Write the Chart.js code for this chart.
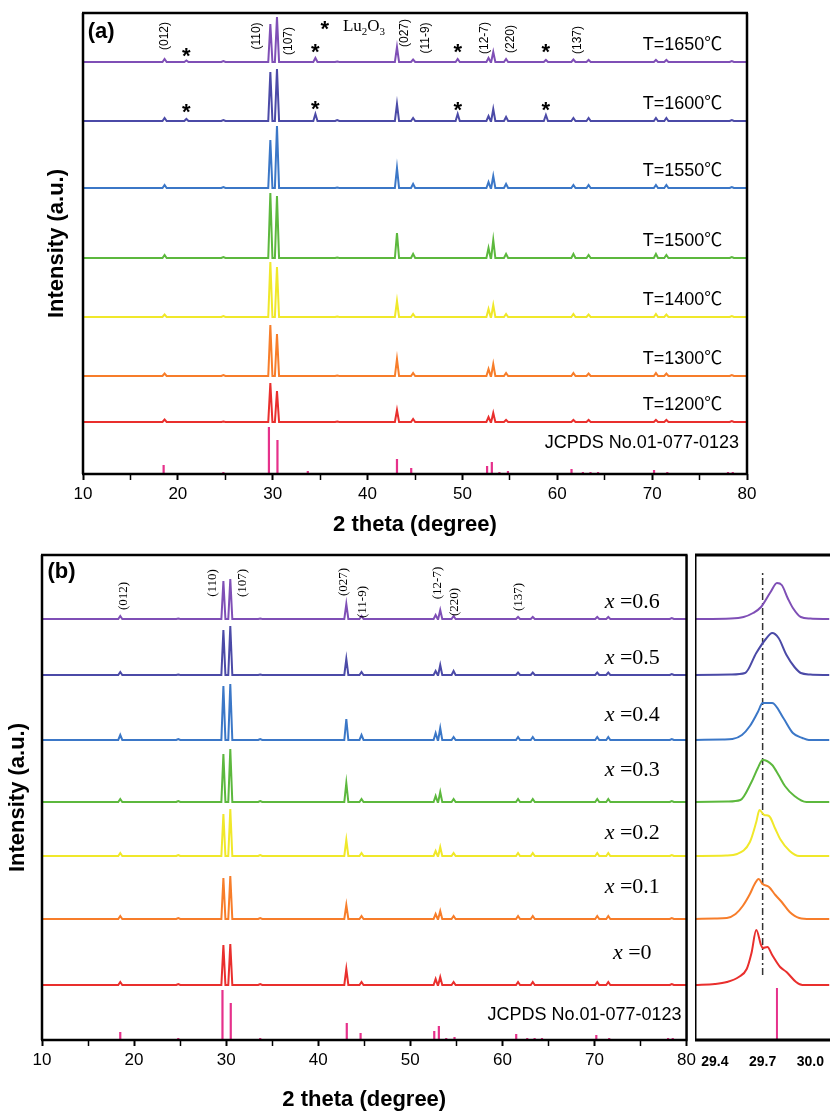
<!DOCTYPE html>
<html>
<head>
<meta charset="utf-8">
<script src="https://cdn.jsdelivr.net/npm/chart.js@4.4.0/dist/chart.umd.min.js"></script>
<style>
  body { margin: 0; background: #fff; width: 830px; height: 1113px; position: relative; overflow: hidden; }
  canvas { position: absolute; }
</style>
</head>
<body>
<canvas id="chartA" width="830" height="545" style="left:0;top:0"></canvas>
<canvas id="chartB" width="700" height="568" style="left:0;top:545px"></canvas>
<canvas id="chartC" width="135" height="568" style="left:695px;top:545px"></canvas>
<script>
// ---------- datos ----------
const xTicks = [10, 15, 20, 25, 30, 35, 40, 45, 50, 55, 60, 65, 70, 75, 80];
const insetTicks = [29.4, 29.7, 30.0];

// lineas de referencia JCPDS No.01-077-0123
const refPos = [18.5, 24.8, 29.6, 30.5, 33.7, 43.1, 44.6, 52.6, 53.1, 53.9, 54.8, 61.5, 62.7, 63.5, 64.3, 70.2, 71.6, 78.0, 78.5];
const refA   = [9, 2, 47, 34, 3, 15, 6, 8, 12, 2, 3, 5, 2, 2, 2, 4, 2, 2, 2];
const refB   = [8, 2, 50, 37, 2, 17, 7, 9, 14, 2, 3, 6, 2, 2, 2, 5, 2, 2, 2];

// (a) temperatura de sinterizado
const tempLabels  = ['T=1650℃', 'T=1600℃', 'T=1550℃', 'T=1500℃', 'T=1400℃', 'T=1300℃', 'T=1200℃'];
const tempOffsets = [412, 353, 286, 216, 157, 98, 52];
const peaksA = [18.6, 20.9, 24.8, 29.75, 30.45, 34.5, 36.8, 43.1, 44.8, 49.5, 52.75, 53.25, 54.6, 58.8, 61.7, 63.3, 70.4, 71.5, 78.4];
const h1650 = [3, 1.5, 1, 38, 45, 4, 0.5, 15, 2.5, 3, 4, 10, 3, 2, 2.5, 2, 2, 2, 1];
const h1600 = [3, 2, 1, 49, 52, 7, 1, 17, 3, 7, 5, 12, 4, 6, 3, 3, 3, 3, 1];
const h1550 = [3, 0, 1, 48, 62, 0, 0.5, 20, 4, 0, 6, 12, 4, 0, 3, 3, 3, 3, 1];
const h1500 = [3, 0, 1, 65, 62, 0, 0.5, 25, 4, 0, 10, 18, 4, 0, 4, 3, 4, 3, 1];
const h1400 = [2.5, 0, 1, 55, 50, 0, 0.5, 16, 3, 0, 8, 12, 3, 0, 3, 2.5, 3, 2.5, 1];
const h1300 = [2.5, 0, 1, 51, 42, 0, 0.5, 17, 3, 0, 7, 12, 3, 0, 3, 2.5, 3, 2.5, 1];
const h1200 = [2.5, 0, 0.5, 39, 31, 0, 0.5, 12, 3, 0, 5, 9, 2, 0, 2, 2, 2, 2, 1];

// (b) composicion x
const compLabels  = ['0.6', '0.5', '0.4', '0.3', '0.2', '0.1', '0'];
const compOffsets = [421, 365, 300, 238, 184, 121, 55];
const peaksB = [18.5, 24.8, 29.7, 30.45, 33.7, 43.05, 44.7, 52.75, 53.25, 54.7, 61.7, 63.3, 70.3, 71.5, 78.4];
const hx06 = [3, 0.5, 38, 40, 0.5, 15, 3, 4, 9, 3, 2, 2, 2, 2, 1];
const hx05 = [3, 0.5, 45, 49, 0.5, 16, 3, 4, 10, 4, 2.5, 2.5, 2.5, 2.5, 1];
const hx04 = [5, 1, 54, 56, 1, 21, 5, 7, 12, 3, 3, 3, 3, 3, 1];
const hx03 = [3, 1, 48, 53, 1, 19, 3, 6, 10, 3, 3, 3, 3, 3, 1];
const hx02 = [3, 1, 42, 47, 1, 16, 3, 5, 9, 3, 3, 3, 3, 3, 1];
const hx01 = [3, 1, 41, 43, 1, 14, 3, 5, 8, 3, 3, 3, 3, 3, 1];
const hx00 = [3, 1, 40, 41, 1, 16, 3, 6, 8, 3, 3, 3, 3, 3, 1];

// detalle del pico (110), 2theta vs intensidad
const inset06 = [[29.275,0],[29.5,0.5],[29.58,2],[29.64,6],[29.69,12],[29.75,27],[29.79,36],[29.82,34],[29.86,20],[29.89,11],[29.94,2],[30.0,0.5],[30.12,0]];
const inset05 = [[29.275,0],[29.5,0.5],[29.59,2],[29.66,22],[29.72,36],[29.76,42],[29.8,37],[29.85,20],[29.9,8],[29.94,2],[30.0,0.5],[30.12,0]];
const inset04 = [[29.275,0],[29.45,0.5],[29.51,1],[29.57,5],[29.62,14],[29.67,28],[29.70,37],[29.76,37],[29.83,22],[29.89,7],[29.95,2],[29.99,0],[30.12,0]];
const inset03 = [[29.275,0],[29.48,0.5],[29.56,2],[29.63,20],[29.67,34],[29.70,42],[29.76,37],[29.8,27],[29.84,16],[29.9,6],[29.975,0],[30.12,0]];
const inset02 = [[29.275,0],[29.47,0.5],[29.54,2],[29.62,14],[29.66,34],[29.68,46],[29.71,41],[29.74,40],[29.78,27],[29.81,17],[29.87,5],[29.93,0],[30.12,0]];
const inset01 = [[29.275,0],[29.4,0.5],[29.475,1],[29.53,5],[29.575,13],[29.62,25],[29.65,35],[29.675,40],[29.7,35],[29.74,32],[29.78,24],[29.82,17],[29.87,7],[29.93,1],[30.0,0],[30.12,0]];
const inset00 = [[29.275,0],[29.4,1],[29.475,3],[29.55,8],[29.6,16],[29.63,32],[29.66,55],[29.69,40],[29.70,37],[29.73,38],[29.76,30],[29.81,18],[29.85,13],[29.91,3],[29.95,0],[30.12,0]];
const insetRef = [29.79];
const insetRefH = [52];
const guideX = 29.7;

// ---------- estilo ----------
const colores = ['#7f4fb6', '#4b4aa7', '#3b77c7', '#5cb83d', '#f0e82a', '#f77d2a', '#e92f2d'];
const colorRef = '#e6318b';
const sans = '"Liberation Sans", Arial, "Noto Sans CJK SC", sans-serif';
const serif = '"Liberation Serif", "Times New Roman", serif';
const HW = 0.22;  // semiancho de cada pico

Chart.defaults.font.family = sans;
Chart.defaults.color = '#000';

function trace(peaks, heights, base) {
  const pts = [{x: 10, y: base}];
  peaks.forEach((p, i) => {
    if (!heights[i]) return;
    pts.push({x: p - HW, y: base}, {x: p, y: base + heights[i]}, {x: p + HW, y: base});
  });
  pts.push({x: 80, y: base});
  return pts;
}

function sticks(pos, h) {
  const pts = [];
  pos.forEach((p, i) => { pts.push({x: p, y: 0}, {x: p, y: h[i]}, {x: p, y: null}); });
  return pts;
}

function lineSet(data, color, extra) {
  return Object.assign({data, borderColor: color, borderWidth: 2, pointRadius: 0, tension: 0, fill: false}, extra || {});
}

function partFont(n, p) {
  const size = p.sub ? Math.round(n.size * 0.62) : n.size;
  return (p.italic ? 'italic ' : '') + (n.bold ? 'bold ' : '') + size + 'px ' + (n.family || sans);
}

function notes(items) {
  return {
    id: 'notes',
    afterDraw(chart) {
      const {ctx, scales: {x, y}} = chart;
      items.forEach(n => {
        const parts = Array.isArray(n.text) ? n.text : [{t: n.text}];
        ctx.save();
        ctx.fillStyle = '#000';
        ctx.translate(x.getPixelForValue(n.x), y.getPixelForValue(n.y));
        if (n.rot) ctx.rotate(-Math.PI / 2);
        ctx.textBaseline = 'middle';
        ctx.textAlign = 'left';
        let w = 0;
        parts.forEach(p => { ctx.font = partFont(n, p); w += ctx.measureText(p.t).width; });
        let cx = n.align === 'right' ? -w : n.align === 'left' ? 0 : -w / 2;
        parts.forEach(p => {
          ctx.font = partFont(n, p);
          ctx.fillText(p.t, cx, p.sub ? n.size * 0.3 : 0);
          cx += ctx.measureText(p.t).width;
        });
        ctx.restore();
      });
    }
  };
}

function frame(sides, width) {
  return {
    id: 'frame',
    afterDraw(chart) {
      const {ctx, chartArea: a} = chart;
      ctx.save();
      ctx.strokeStyle = '#000';
      ctx.lineWidth = width;
      ctx.beginPath();
      if (sides.includes('t')) { ctx.moveTo(a.left - 1, a.top); ctx.lineTo(a.right + 1, a.top); }
      if (sides.includes('b')) { ctx.moveTo(a.left - 1, a.bottom); ctx.lineTo(a.right + 1, a.bottom); }
      if (sides.includes('l')) { ctx.moveTo(a.left, a.top); ctx.lineTo(a.left, a.bottom); }
      if (sides.includes('r')) { ctx.moveTo(a.right, a.top); ctx.lineTo(a.right, a.bottom); }
      ctx.stroke();
      ctx.restore();
    }
  };
}

function xAxis(height, withTitle, titlePad) {
  return {
    type: 'linear', min: 10, max: 80,
    afterBuildTicks: s => { s.ticks = xTicks.map(v => ({value: v})); },
    afterFit: s => { s.height = height; },
    grid: {display: true, drawOnChartArea: false, drawTicks: true, tickLength: 6, tickColor: '#000',
           tickWidth: c => (c.tick && c.tick.value % 10 === 0) ? 2 : 1.5},
    border: {display: false},
    ticks: {font: {size: 17}, padding: 4, maxRotation: 0, autoSkip: false,
            callback: v => v % 10 === 0 ? String(v) : ''},
    title: {display: withTitle, text: '2 theta (degree)', font: {size: 22, weight: 'bold', lineHeight: 1.2},
            padding: {top: 0, bottom: titlePad}}
  };
}

function yAxis(max, width, titlePad) {
  return {
    min: 0, max,
    afterFit: s => { s.width = width; },
    ticks: {display: false},
    grid: {display: false},
    border: {display: false},
    title: {display: true, text: 'Intensity (a.u.)', font: {size: 22, weight: 'bold', lineHeight: 1.2},
            padding: {top: titlePad, bottom: 0}}
  };
}

const baseOpts = {
  responsive: false,
  animation: false,
  events: [],
  plugins: {legend: {display: false}, tooltip: {enabled: false}}
};

// ---------- (a) ----------
const dataA = [h1650, h1600, h1550, h1500, h1400, h1300, h1200];
const notesA = [
  {text: '(a)', x: 10.5, y: 442, size: 22, bold: true, align: 'left'},
  {text: '(012)', x: 18.6, y: 438, size: 12, rot: true},
  {text: '(110)', x: 28.3, y: 438, size: 12, rot: true},
  {text: '(107)', x: 31.7, y: 433, size: 12, rot: true},
  {text: '(027)', x: 43.9, y: 441, size: 12, rot: true},
  {text: '(11-9)', x: 46.1, y: 436, size: 12, rot: true},
  {text: '(12-7)', x: 52.3, y: 436, size: 12, rot: true},
  {text: '(220)', x: 55.1, y: 435, size: 12, rot: true},
  {text: '(137)', x: 62.1, y: 434, size: 12, rot: true},
  {text: '*', x: 35.5, y: 444, size: 22, bold: true},
  {text: [{t: 'Lu'}, {t: '2', sub: true}, {t: 'O'}, {t: '3', sub: true}], x: 37.4, y: 447, size: 17, family: serif, align: 'left'},
  {text: 'JCPDS No.01-077-0123', x: 79.15, y: 31, size: 18, align: 'right'}
];
[[20.9, 417], [34.5, 421], [49.5, 421], [58.8, 421], [20.9, 361], [34.5, 364], [49.5, 363], [58.8, 363]]
  .forEach(([x, y]) => notesA.push({text: '*', x, y, size: 22, bold: true}));
tempLabels.forEach((t, i) => notesA.push({text: t, x: 77.4, y: tempOffsets[i] + 17, size: 18, align: 'right'}));

new Chart(document.getElementById('chartA'), {
  type: 'line',
  data: {
    datasets: dataA.map((h, i) => lineSet(trace(peaksA, h, tempOffsets[i]), colores[i]))
      .concat([lineSet(sticks(refPos, refA), colorRef, {borderWidth: 2.2})])
  },
  options: Object.assign({}, baseOpts, {
    layout: {padding: {top: 13, right: 83, left: 0, bottom: 0}},
    scales: {x: xAxis(71, true, 7), y: yAxis(461, 83, 44)}
  }),
  plugins: [frame('tblr', 2.5), notes(notesA)]
});

// ---------- (b) ----------
const dataB = [hx06, hx05, hx04, hx03, hx02, hx01, hx00];
const compY = [438, 382, 325, 270, 207, 153, 87];
const notesB = [
  {text: '(b)', x: 10.6, y: 468, size: 22, bold: true, align: 'left'},
  {text: '(012)', x: 18.9, y: 444, size: 13, rot: true, family: serif},
  {text: '(110)', x: 28.5, y: 457, size: 13, rot: true, family: serif},
  {text: '(107)', x: 31.8, y: 457, size: 13, rot: true, family: serif},
  {text: '(027)', x: 42.8, y: 458, size: 13, rot: true, family: serif},
  {text: '(11-9)', x: 44.8, y: 438, size: 13, rot: true, family: serif},
  {text: '(12-7)', x: 53.0, y: 457, size: 13, rot: true, family: serif},
  {text: '(220)', x: 54.8, y: 438, size: 13, rot: true, family: serif},
  {text: '(137)', x: 61.8, y: 443, size: 13, rot: true, family: serif},
  {text: 'JCPDS No.01-077-0123', x: 79.46, y: 25, size: 18, align: 'right'}
];
compLabels.forEach((c, i) => notesB.push({text: [{t: 'x', italic: true}, {t: ' =' + c}], x: 74.1, y: compY[i], size: 22, family: serif}));

new Chart(document.getElementById('chartB'), {
  type: 'line',
  data: {
    datasets: dataB.map((h, i) => lineSet(trace(peaksB, h, compOffsets[i]), colores[i]))
      .concat([lineSet(sticks(refPos, refB), colorRef, {borderWidth: 2.2})])
  },
  options: Object.assign({}, baseOpts, {
    layout: {padding: {top: 10, right: 5, left: 0, bottom: 0}},
    scales: {x: xAxis(73, true, 0), y: yAxis(485, 42, 5)}
  }),
  plugins: [frame('tblr', 2.5), notes(notesB)]
});

// ---------- detalle ----------
const insets = [inset06, inset05, inset04, inset03, inset02, inset01, inset00];
new Chart(document.getElementById('chartC'), {
  type: 'line',
  data: {
    datasets: insets.map((s, i) => lineSet(s.map(([x, y]) => ({x, y: y + compOffsets[i]})), colores[i],
                                           {cubicInterpolationMode: 'monotone'}))
      .concat([
        lineSet(sticks(insetRef, insetRefH), colorRef, {borderWidth: 2}),
        lineSet([{x: guideX, y: 65}, {x: guideX, y: 467}], '#333', {borderWidth: 1.5, borderDash: [7, 3, 2, 3]})
      ])
  },
  options: Object.assign({}, baseOpts, {
    layout: {padding: {top: 10, right: 0, left: 0, bottom: 0}},
    scales: {
      x: {
        type: 'linear', min: 29.275, max: 30.12,
        afterBuildTicks: s => { s.ticks = insetTicks.map(v => ({value: v})); },
        afterFit: s => { s.height = 73; },
        grid: {display: false},
        border: {display: false},
        ticks: {font: {size: 14, weight: 'bold'}, padding: 6, maxRotation: 0, autoSkip: false,
                callback: v => v.toFixed(1)}
      },
      y: {min: 0, max: 485, display: false}
    }
  }),
  plugins: [frame('tbl', 3)]
});
</script>
</body>
</html>
